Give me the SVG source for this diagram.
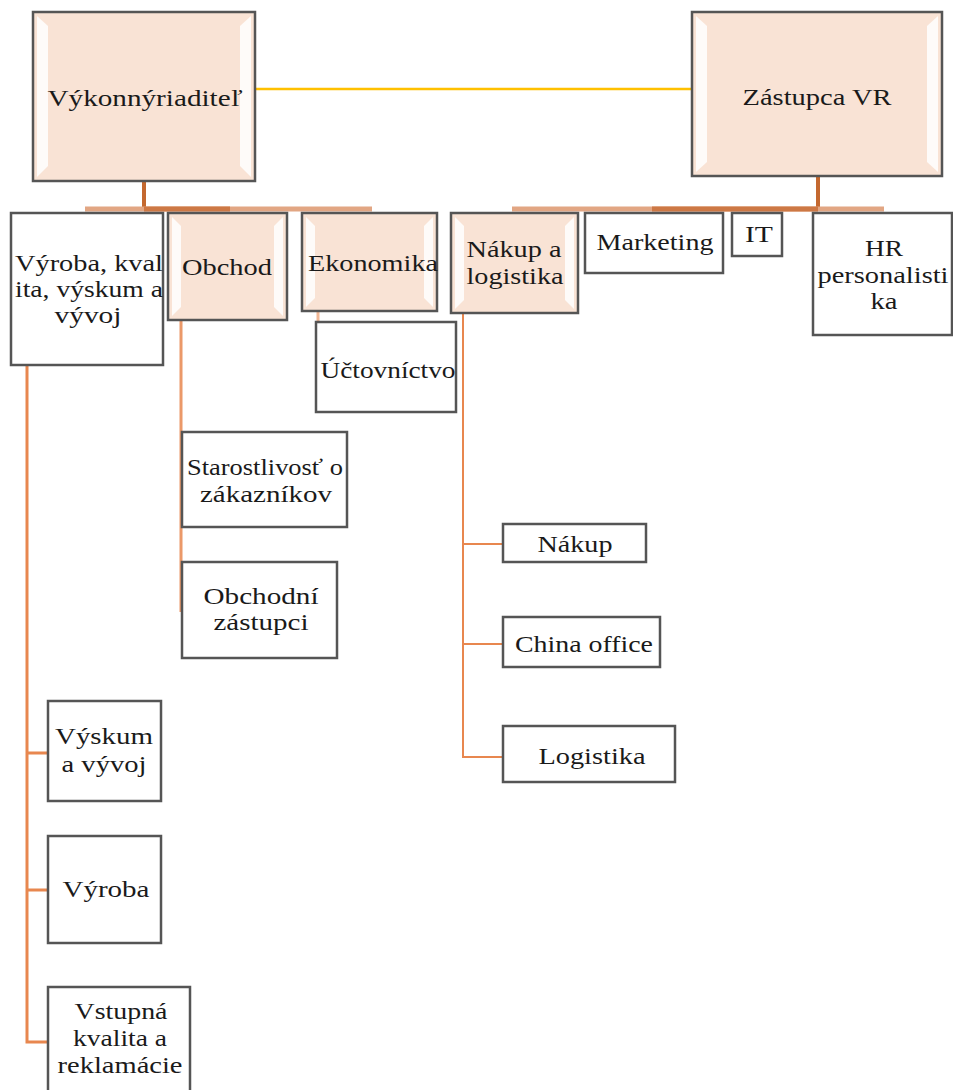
<svg xmlns="http://www.w3.org/2000/svg" width="953" height="1090" viewBox="0 0 953 1090">
<defs>
<style>
.box{stroke:#555;stroke-width:2.5;fill:#fff}
.peach{fill:#f9e3d5}
.hl{fill:#fff;opacity:0.85}
.t text{font-family:"Liberation Serif","DejaVu Serif","Noto Serif",serif;font-size:23px;fill:#1a1a1a;text-anchor:middle}
.bus{stroke:#e2a683;stroke-width:5;fill:none}
.busd{stroke:#cd7845;stroke-width:5;fill:none}
.drop{stroke:#c4682f;stroke-width:4;fill:none}
.child{stroke:#e8874f;stroke-width:3;fill:none}
.thin{stroke:#e8874f;stroke-width:2;fill:none}
</style>
</defs>
<rect width="953" height="1090" fill="#fff"/>
<g id="connectors">
<line x1="250" y1="89" x2="694" y2="89" stroke="#ffc000" stroke-width="2.5"/>
<line class="drop" x1="144" y1="182" x2="144" y2="208"/>
<line class="bus" x1="85" y1="209" x2="372" y2="209"/>
<line class="busd" x1="144" y1="209" x2="230" y2="209"/>
<line class="drop" x1="818" y1="176" x2="818" y2="208"/>
<line class="bus" x1="512" y1="209" x2="884" y2="209"/>
<line class="busd" x1="652" y1="209" x2="818" y2="209"/>
<path class="child" d="M27 365 V1042 H48 M27 753 H48 M27 890 H48"/>
<path class="child" d="M181 320 V612" opacity="0.85"/>
<path class="child" d="M318 311 V322" opacity="0.6"/>
<path class="thin" d="M463 313 V757 H503 M463 544 H503 M463 644 H503"/>
</g>
<g class="t" font-family="Liberation Serif, DejaVu Serif, serif">
<g id="n-vr">
<rect class="box peach" x="33" y="12" width="222" height="169"/>
<polygon class="hl" points="37,16 48,26 48,166 37,177"/>
<polygon class="hl" points="251,16 240,26 240,166 251,177"/>
<text x="145" y="106" textLength="195" lengthAdjust="spacingAndGlyphs">Výkonnýriaditeľ</text>
</g>
<g id="n-zvr">
<rect class="box peach" x="692" y="12" width="250" height="164"/>
<polygon class="hl" points="696,16 707,26 707,162 696,172"/>
<polygon class="hl" points="938,16 927,26 927,162 938,172"/>
<text x="817" y="105" textLength="149" lengthAdjust="spacingAndGlyphs">Zástupca VR</text>
</g>
<g id="n-vyroba-kval">
<rect class="box" x="11" y="213" width="152" height="152"/>
<text x="89" y="271" textLength="148" lengthAdjust="spacingAndGlyphs">Výroba, kval</text>
<text x="89" y="297" textLength="148" lengthAdjust="spacingAndGlyphs">ita, výskum a</text>
<text x="88" y="323" textLength="67" lengthAdjust="spacingAndGlyphs">vývoj</text>
</g>
<g id="n-obchod">
<rect class="box peach" x="168" y="213" width="119" height="107"/>
<polygon class="hl" points="172,217 181,226 181,307 172,316"/>
<polygon class="hl" points="283,217 274,226 274,307 283,316"/>
<text x="227" y="275" textLength="90" lengthAdjust="spacingAndGlyphs">Obchod</text>
</g>
<g id="n-ekonomika">
<rect class="box peach" x="302" y="213" width="135" height="98"/>
<polygon class="hl" points="306,217 315,226 315,298 306,307"/>
<polygon class="hl" points="433,217 424,226 424,298 433,307"/>
<text x="373" y="271" textLength="130" lengthAdjust="spacingAndGlyphs">Ekonomika</text>
</g>
<g id="n-nakup-log">
<rect class="box peach" x="451" y="213" width="127" height="100"/>
<polygon class="hl" points="455,217 464,226 464,300 455,309"/>
<polygon class="hl" points="574,217 565,226 565,300 574,309"/>
<text x="514" y="257" textLength="95" lengthAdjust="spacingAndGlyphs">Nákup a</text>
<text x="515" y="284" textLength="97" lengthAdjust="spacingAndGlyphs">logistika</text>
</g>
<g id="n-marketing">
<rect class="box" x="585" y="213" width="138" height="60"/>
<text x="655" y="250" textLength="117" lengthAdjust="spacingAndGlyphs">Marketing</text>
</g>
<g id="n-it">
<rect class="box" x="732" y="213" width="50" height="43"/>
<text x="759" y="242" textLength="28" lengthAdjust="spacingAndGlyphs">IT</text>
</g>
<g id="n-hr">
<rect class="box" x="813" y="213" width="139" height="122"/>
<text x="884" y="256" textLength="38" lengthAdjust="spacingAndGlyphs">HR</text>
<text x="883" y="283" textLength="131" lengthAdjust="spacingAndGlyphs">personalisti</text>
<text x="884" y="309" textLength="27" lengthAdjust="spacingAndGlyphs">ka</text>
</g>
<g id="n-uctovnictvo">
<rect class="box" x="316" y="322" width="140" height="90"/>
<text x="388" y="378" textLength="135" lengthAdjust="spacingAndGlyphs">Účtovníctvo</text>
</g>
<g id="n-starostlivost">
<rect class="box" x="182" y="432" width="165" height="95"/>
<text x="265" y="475" textLength="156" lengthAdjust="spacingAndGlyphs">Starostlivosť o</text>
<text x="266" y="502" textLength="132" lengthAdjust="spacingAndGlyphs">zákazníkov</text>
</g>
<g id="n-obchodni">
<rect class="box" x="182" y="562" width="155" height="96"/>
<text x="261" y="604" textLength="115" lengthAdjust="spacingAndGlyphs">Obchodní</text>
<text x="261" y="630" textLength="95" lengthAdjust="spacingAndGlyphs">zástupci</text>
</g>
<g id="n-nakup">
<rect class="box" x="503" y="524" width="143" height="38"/>
<text x="575" y="552" textLength="75" lengthAdjust="spacingAndGlyphs">Nákup</text>
</g>
<g id="n-china">
<rect class="box" x="503" y="617" width="157" height="50"/>
<text x="584" y="652" textLength="138" lengthAdjust="spacingAndGlyphs">China office</text>
</g>
<g id="n-logistika">
<rect class="box" x="503" y="726" width="172" height="56"/>
<text x="592" y="764" textLength="107" lengthAdjust="spacingAndGlyphs">Logistika</text>
</g>
<g id="n-vyskum">
<rect class="box" x="48" y="701" width="113" height="100"/>
<text x="104" y="744" textLength="98" lengthAdjust="spacingAndGlyphs">Výskum</text>
<text x="104" y="772" textLength="85" lengthAdjust="spacingAndGlyphs">a vývoj</text>
</g>
<g id="n-vyroba">
<rect class="box" x="48" y="836" width="113" height="107"/>
<text x="106" y="897" textLength="87" lengthAdjust="spacingAndGlyphs">Výroba</text>
</g>
<g id="n-vstupna">
<rect class="box" x="48" y="987" width="142" height="110"/>
<text x="121" y="1019" textLength="93" lengthAdjust="spacingAndGlyphs">Vstupná</text>
<text x="120" y="1046" textLength="94" lengthAdjust="spacingAndGlyphs">kvalita a</text>
<text x="120" y="1073" textLength="125" lengthAdjust="spacingAndGlyphs">reklamácie</text>
</g>
</g>
</svg>
